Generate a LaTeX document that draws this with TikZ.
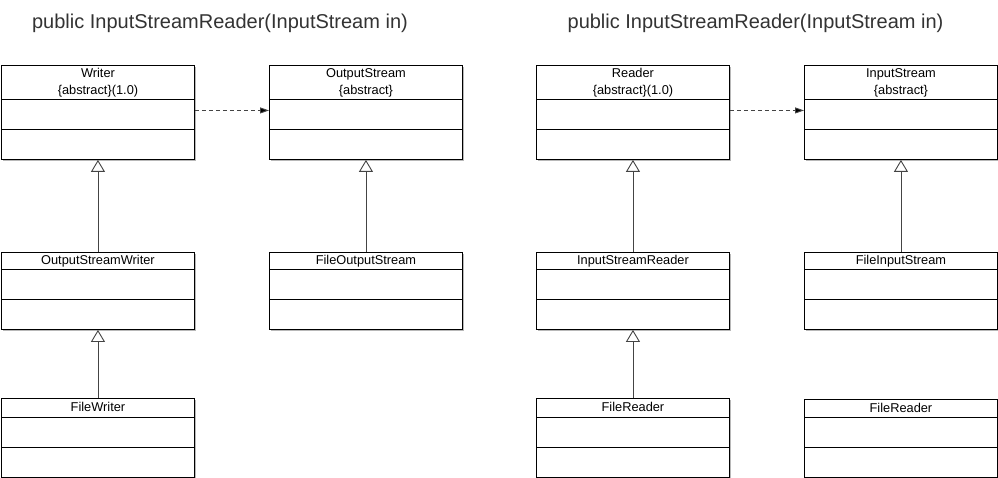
\documentclass[tikz,border=0pt]{standalone}
\usepackage{fontspec}
\setmainfont{Liberation Sans}
\usetikzlibrary{arrows.meta,shadows,calc}
\definecolor{titlegray}{HTML}{333333}
\definecolor{linegray}{HTML}{444444}
\tikzset{
  umlbox/.style={draw=black, line width=0.9pt, fill=white, rectangle, inner sep=0pt,
    minimum width=193pt, anchor=north west,
    drop shadow={shadow xshift=1.2pt, shadow yshift=-2pt, fill=black, opacity=0.28}},
  divider/.style={draw=black, line width=0.9pt},
  lbl/.style={font=\fontsize{12.8}{14}\selectfont, text=black, anchor=base, inner sep=0pt},
  ttl/.style={font=\fontsize{20}{24}\selectfont, text=titlegray, anchor=base, inner sep=0pt},
  inherit/.style={draw=linegray, line width=0.9pt,
    -{Triangle[open, width=14pt, length=12pt, line width=0.9pt, fill=white]}},
  depend/.style={draw=linegray, line width=0.9pt, dash pattern=on 4pt off 3pt,
    -{Triangle[width=6pt, length=9pt, fill=black]}}
}
\newcommand{\umlframe}[4]{%
  \node[umlbox, minimum height=#4pt+60pt] (#1) at (#2,#3) {};
  \draw[divider] ([yshift=-#4pt]#1.north west) -- ([yshift=-#4pt]#1.north east);
  \draw[divider] ([yshift=-#4pt-30pt]#1.north west) -- ([yshift=-#4pt-30pt]#1.north east);
}
\begin{document}
\begin{tikzpicture}[x=1pt, y=-1pt]
\useasboundingbox[fill=white] (0,0) rectangle (998,478);

% titles
\node[ttl] (title1) at (220,29) {public InputStreamReader(InputStream in)};
\node[ttl] (title2) at (755.5,29) {public InputStreamReader(InputStream in)};

% left group
\umlframe{writer}{1}{65}{34}
\node[lbl] (writer-t1) at ([yshift=-12.7pt]writer.north) {Writer};
\node[lbl] (writer-t2) at ([yshift=-29.7pt]writer.north) {\{abstract\}(1.0)};

\umlframe{ostream}{269}{65}{34}
\node[lbl] (ostream-t1) at ([yshift=-12.7pt]ostream.north) {OutputStream};
\node[lbl] (ostream-t2) at ([yshift=-29.7pt]ostream.north) {\{abstract\}};

\umlframe{osw}{1}{252}{17}
\node[lbl] (osw-t) at ([yshift=-12.5pt]osw.north) {OutputStreamWriter};

\umlframe{fos}{269}{252}{17}
\node[lbl] (fos-t) at ([yshift=-12.5pt]fos.north) {FileOutputStream};

\umlframe{fw}{1}{398}{19}
\node[lbl] (fw-t) at ([yshift=-13.3pt]fw.north) {FileWriter};

% right group
\umlframe{reader}{536}{65}{34}
\node[lbl] (reader-t1) at ([yshift=-12.7pt]reader.north) {Reader};
\node[lbl] (reader-t2) at ([yshift=-29.7pt]reader.north) {\{abstract\}(1.0)};

\umlframe{istream}{804}{65}{34}
\node[lbl] (istream-t1) at ([yshift=-12.7pt]istream.north) {InputStream};
\node[lbl] (istream-t2) at ([yshift=-29.7pt]istream.north) {\{abstract\}};

\umlframe{isr}{536}{252}{17}
\node[lbl] (isr-t) at ([yshift=-12.5pt]isr.north) {InputStreamReader};

\umlframe{fis}{804}{252}{17}
\node[lbl] (fis-t) at ([yshift=-12.5pt]fis.north) {FileInputStream};

\umlframe{fr}{536}{398}{19}
\node[lbl] (fr-t) at ([yshift=-13.3pt]fr.north) {FileReader};

\umlframe{fr2}{804}{399}{18}
\node[lbl] (fr2-t) at ([yshift=-13.3pt]fr2.north) {FileReader};

% connectors
\draw[inherit] (osw) -- (writer);
\draw[inherit] (fw) -- (osw);
\draw[inherit] (fos) -- (ostream);
\draw[inherit] (isr) -- (reader);
\draw[inherit] (fr) -- (isr);
\draw[inherit] (fis) -- (istream);
\draw[depend] ([yshift=2pt]writer.east) -- ([yshift=2pt]ostream.west);
\draw[depend] ([yshift=2pt]reader.east) -- ([yshift=2pt]istream.west);
\end{tikzpicture}
\end{document}
